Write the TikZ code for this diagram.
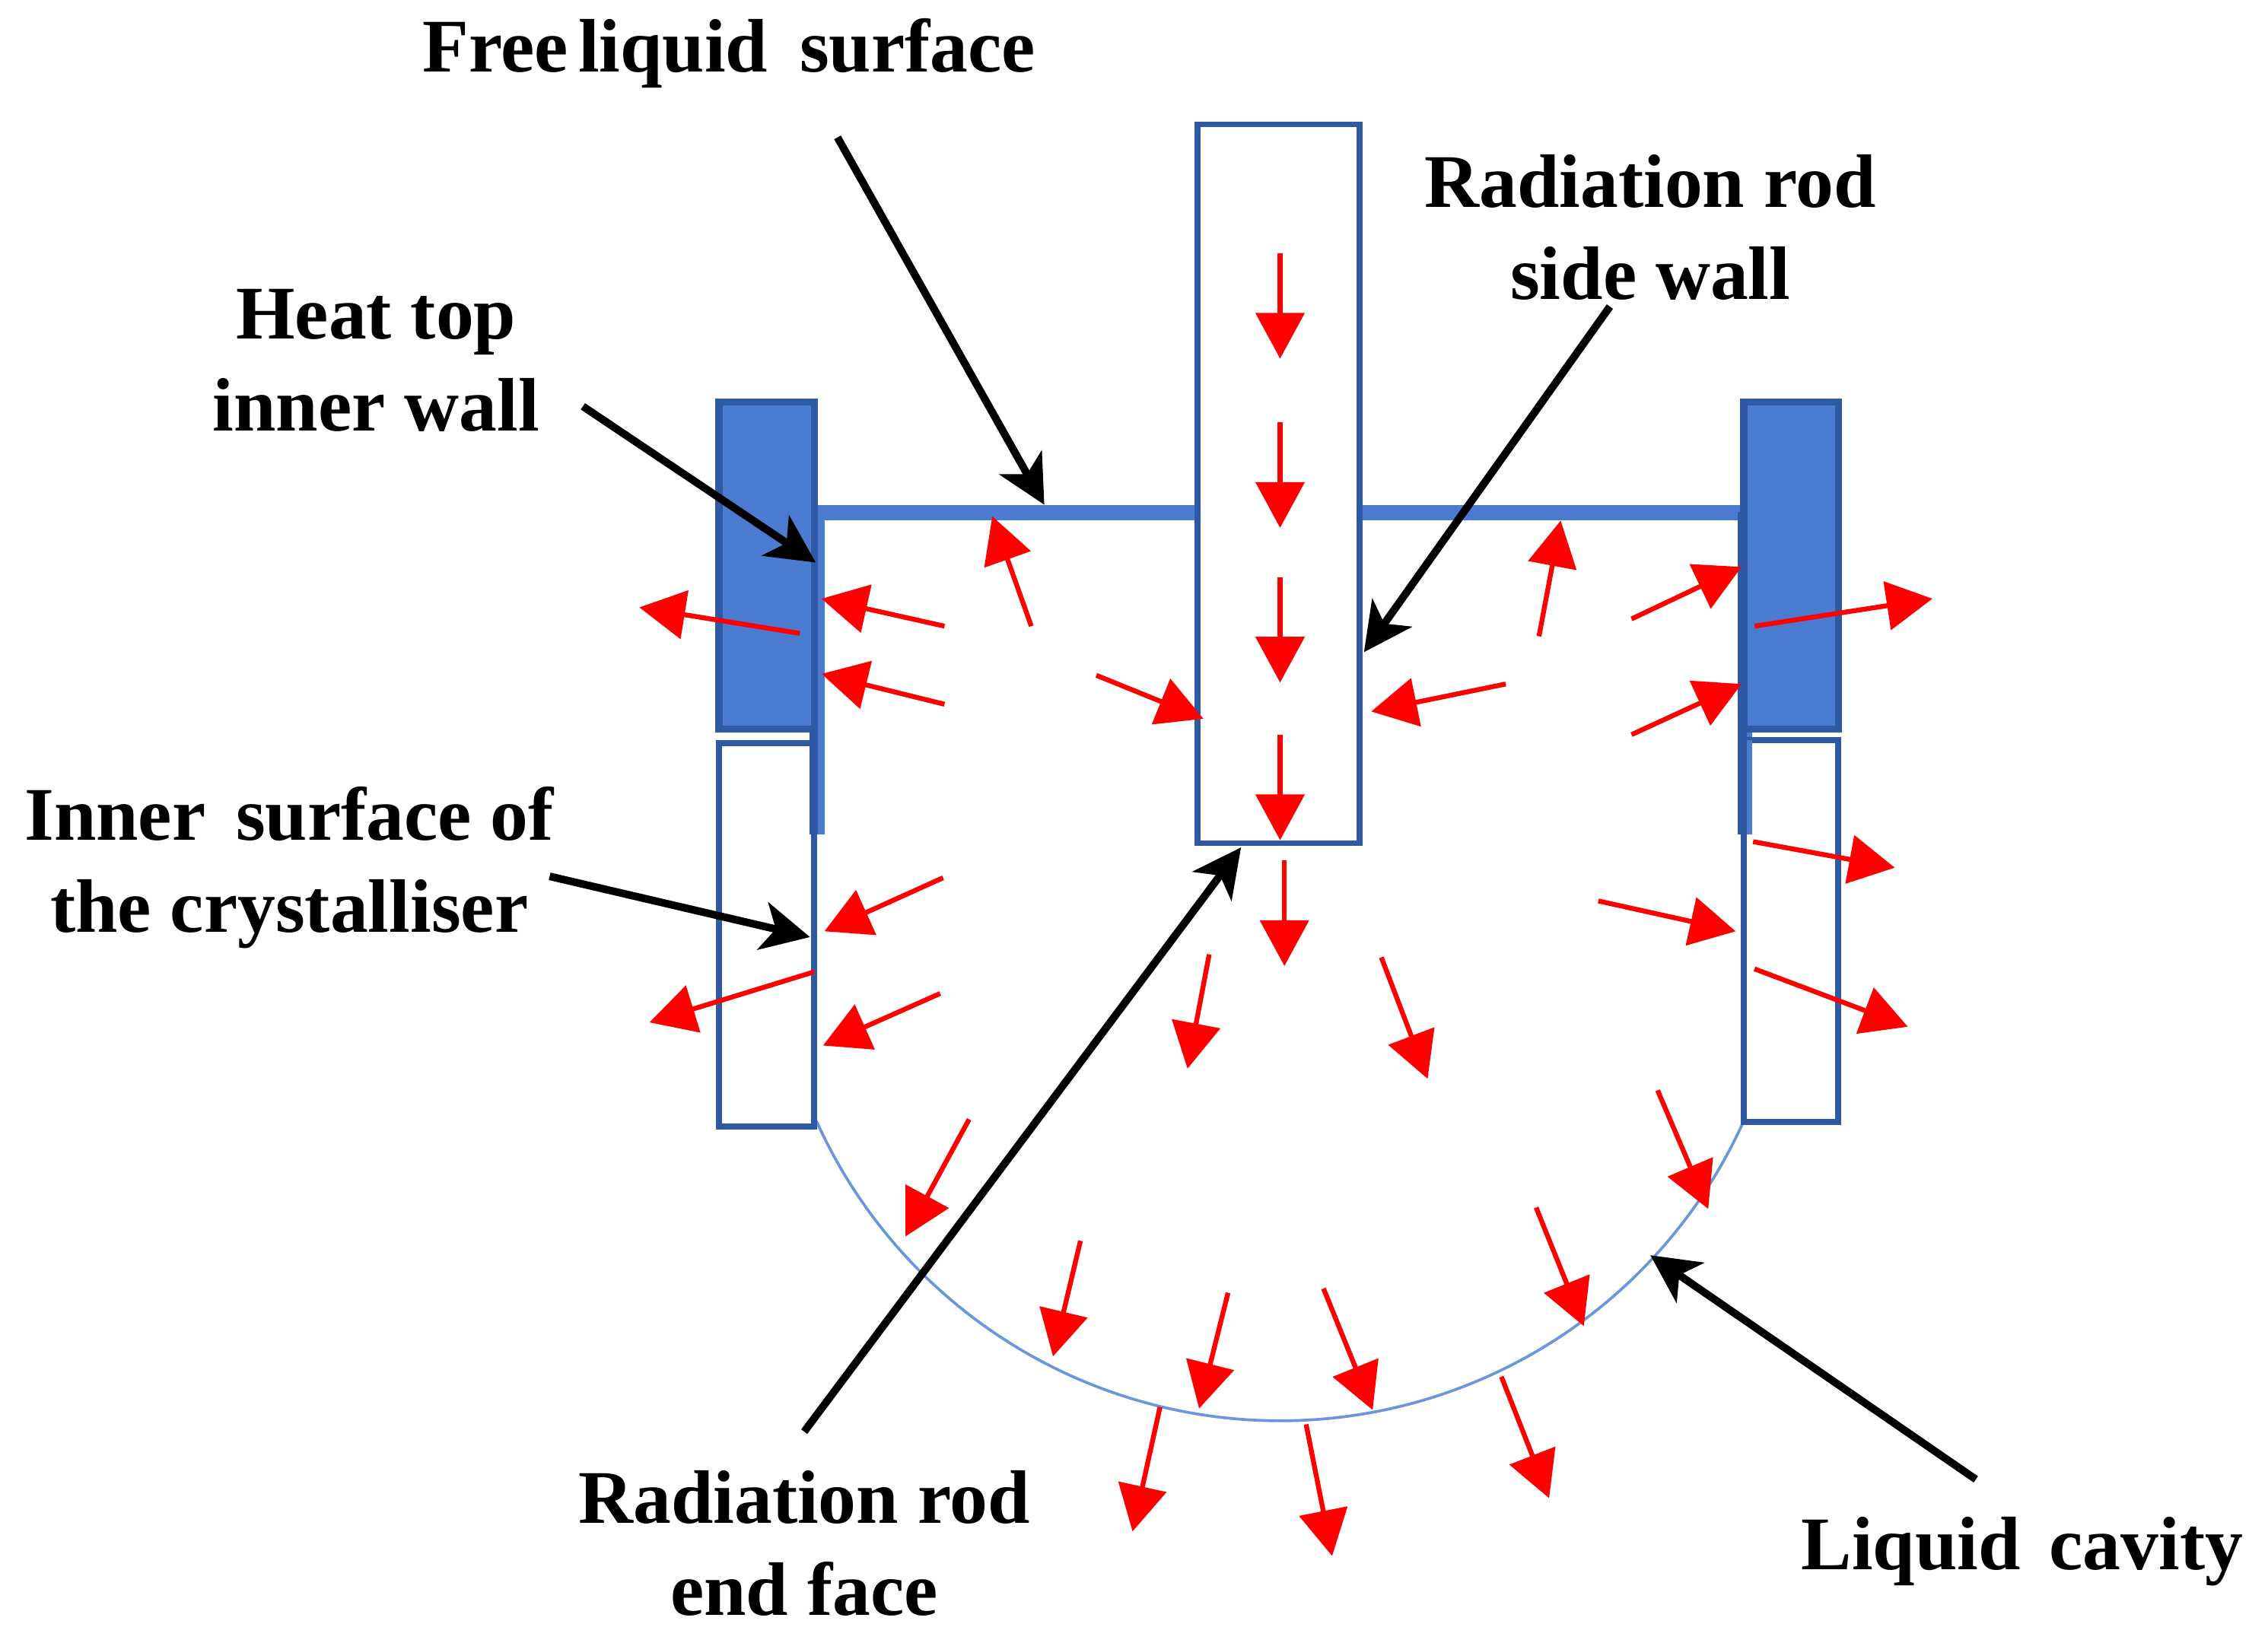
\documentclass[tikz,border=0pt]{standalone}
\usepackage{fontspec}
\setmainfont{Liberation Serif}
\usetikzlibrary{arrows.meta}
\definecolor{blueFill}{HTML}{4A7BD0}
\definecolor{blueEdge}{HTML}{2F5AA3}
\definecolor{blueThin}{HTML}{6A96DC}
\tikzset{
  x=0.01cm, y=-0.01cm,
  heatbox/.style={draw=blueEdge, fill=blueFill, line width=1.4pt},
  crystbox/.style={draw=blueEdge, fill=white, line width=1.2pt},
  rodbox/.style={draw=blueEdge, line width=1.1pt},
  surfline/.style={draw=blueFill, line width=3pt},
  wallline/.style={draw=blueFill, line width=2.8pt},
  walledge/.style={draw=blueEdge, line width=1.7pt},
  cavity/.style={draw=blueThin, line width=0.55pt},
  blackarrow/.style={draw=black, line width=1.5pt, -{Stealth[length=9.5pt,width=9.5pt,inset=2.6pt]}},
  redarrow/.style={draw=red, line width=0.95pt, fill=red, -{Triangle[length=9pt,width=9.5pt]}},
  lab/.style={font=\fontsize{14.9}{18.1}\selectfont\bfseries, align=center, inner sep=0pt, text=black},
}
\begin{document}
\begin{tikzpicture}
\useasboundingbox (0,0) rectangle (1568,1136);
\fill[white] (0,0) rectangle (1568,1136);
% cavity outline
\draw[cavity] plot[domain=24.2:155.8, samples=80, smooth] ({885+351.5*cos(\x)},{631+351.5*sin(\x)});
% free surface and walls
\draw[surfline] (565,354.5) -- (828,354.5);
\draw[surfline] (940,354.5) -- (1204,354.5);
\draw[wallline] (565.5,354) -- (565.5,577);
\draw[wallline] (1206.5,354) -- (1206.5,577);
% crystalliser and heat top
\draw[crystbox] (497,514) rectangle (563,779);
\draw[crystbox] (1205.5,512) rectangle (1271,776);
\draw[wallline] (565.5,514) -- (565.5,577);
\draw[wallline] (1206.5,512) -- (1206.5,577);
\draw[crystbox, fill=none] (563,577) -- (563,779);
\draw[walledge] (1204.5,354) -- (1204.5,577);
\draw[walledge] (562.5,504) -- (562.5,577);
\draw[heatbox] (497,278) rectangle (563,504);
\draw[heatbox] (1205.5,278) rectangle (1271,504);
% rod
\draw[rodbox] (828,86) rectangle (940,583);
% red heat-flow arrows
\foreach \ax/\ay/\bx/\by in {
  885/175/885/248, 885/292/885/365, 885/399/885/472, 885/508/885/581,
  888/595/888/668, 836/660/821/739, 955/662/987/746,
  553/438/442/420, 653/433/568/414, 653/487/568/466, 713/433/686/357, 758/467/832/497,
  1041/473/948/492, 1064/440/1079/360, 1128/428/1204/392, 1128/508/1204/473, 1213/433/1336/414,
  1212/582/1310/600, 1105/623/1200/644, 1213/670/1319/710,
  652/607/570/644, 650/687/569/723, 563/672/449/707,
  670/774/626/855, 747/858/728/938, 849/894/829/974, 915/891/949/975,
  1062/835/1095/917, 1146/754/1181/836, 1038/952/1071/1036, 903/985/921/1076, 802/973/783/1059}
{ \draw[redarrow] (\ax,\ay) -- (\bx,\by); }
% labels
\node[lab] (free) at (504,37) {Free\hspace{0.13em}liquid\hspace{0.42em}surface};
\node[lab] (heat) at (260,249) {Heat top\\inner wall};
\node[lab] (side) at (1141,157) {Radiation rod\\side wall};
\node[lab] (inner) at (200,600) {Inner\hspace{0.4em}surface of\\the crystalliser};
\node[lab] (endf) at (556,1067) {Radiation rod\\end face};
\node[lab] (cav) at (1398,1073) {Liquid\hspace{0.38em}cavity};
% leader arrows
\coordinate (freeT) at (579,95);   \coordinate (freeH) at (722,349);
\coordinate (heatT) at (403,281);  \coordinate (heatH) at (564,389);
\coordinate (sideT) at (1113,212); \coordinate (sideH) at (943,451);
\coordinate (innerT) at (380,606); \coordinate (innerH) at (560,648);
\coordinate (endT) at (556,990);   \coordinate (endH) at (858,586);
\coordinate (cavT) at (1366,1023); \coordinate (cavH) at (1141,868);
\draw[blackarrow] (freeT) -- (freeH);
\draw[blackarrow] (heatT) -- (heatH);
\draw[blackarrow] (sideT) -- (sideH);
\draw[blackarrow] (innerT) -- (innerH);
\draw[blackarrow] (endT) -- (endH);
\draw[blackarrow] (cavT) -- (cavH);
\end{tikzpicture}
\end{document}
